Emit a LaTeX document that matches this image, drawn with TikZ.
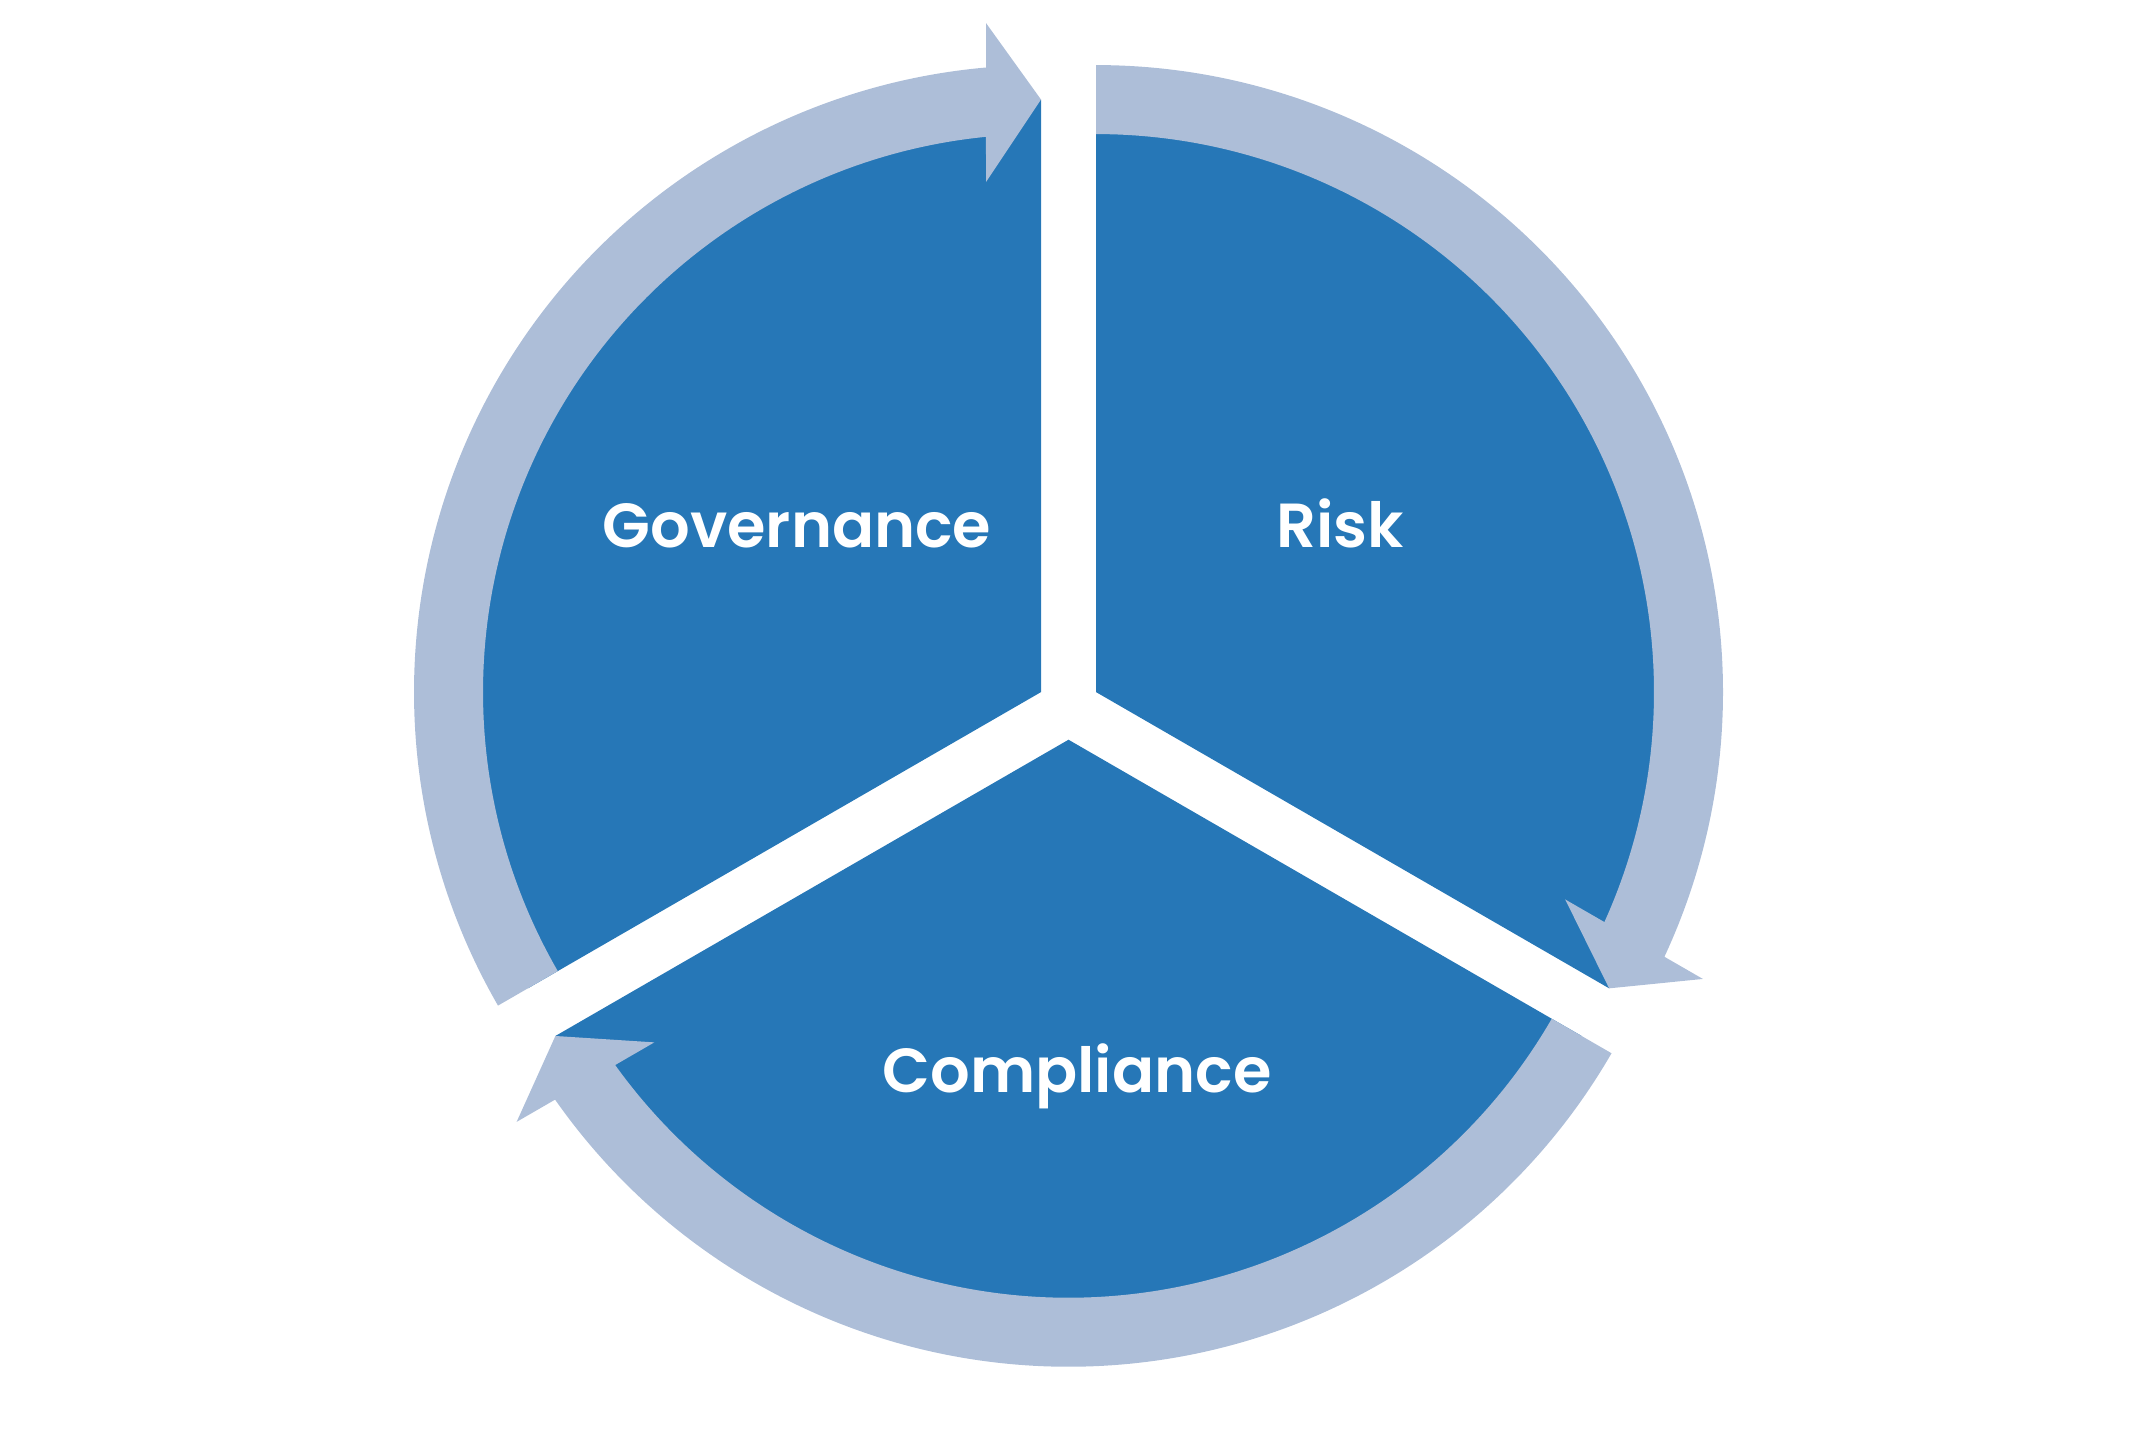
\documentclass[tikz,border=0pt]{standalone}
\usepackage{fontspec}
\setmainfont{Poppins}[BoldFont=* SemiBold]
\usetikzlibrary{calc}
\definecolor{segblue}{RGB}{38,119,183}
\definecolor{ringblue}{RGB}{173,190,216}
\tikzset{
    segment/.style={fill=segblue, draw=none},
    ring/.style={fill=ringblue, draw=none},
    seglabel/.style={text=white, anchor=base,
                     font=\bfseries\fontsize{17.7}{20}\selectfont},
    }

\begin{document}
\begin{tikzpicture}[x=0.01cm,y=0.01cm]
            \useasboundingbox (0,0) rectangle (2137,1431);
            \coordinate (cg) at (1041,738.9);
            \coordinate (cr) at (1096,738.9);
            \coordinate (cc) at (1068.5,691.25);

            % segments
            \fill[segment] (cg) -- ($(cg)+(90:592.5)$) arc[start angle=90, end angle=210, radius=592.5] -- cycle;
            \fill[segment] (cr) -- ($(cr)+(-30:592.5)$) arc[start angle=-30, end angle=90, radius=592.5] -- cycle;
            \fill[segment] (cc) -- ($(cc)+(210:592.5)$) arc[start angle=210, end angle=330, radius=592.5] -- cycle;

            % cycle arrows
            \fill[ring] ($(cg)+(210:627)$) arc[start angle=210, end angle=95.03, radius=627]
                -- ($(cg)+(180:55)+(90:669)$) -- ($(cg)+(90:592.5)$) -- ($(cg)+(180:55)+(90:510)$)
                -- ($(cg)+(95.66:558)$) arc[start angle=95.66, end angle=210, radius=558] -- cycle;
            \fill[ring] ($(cr)+(90:627)$) arc[start angle=90, end angle=-24.97, radius=627]
                -- ($(cr)+(60:55)+(-30:669)$) -- ($(cr)+(-30:592.5)$) -- ($(cr)+(60:55)+(-30:510)$)
                -- ($(cr)+(-24.34:558)$) arc[start angle=-24.34, end angle=90, radius=558] -- cycle;
            \fill[ring] ($(cc)+(-30:627)$) arc[start angle=-30, end angle=-144.97, radius=627]
                -- ($(cc)+(-60:55)+(-150:669)$) -- ($(cc)+(-150:592.5)$) -- ($(cc)+(-60:55)+(-150:510)$)
                -- ($(cc)+(-144.34:558)$) arc[start angle=-144.34, end angle=-30, radius=558] -- cycle;

            \node[seglabel] (gov) at (797,883) {Governance};
            \node[seglabel] (risk) at (1340,883) {Risk};
            \node[seglabel] (comp) at (1077,338) {Compliance};
        \end{tikzpicture}
\end{document}
